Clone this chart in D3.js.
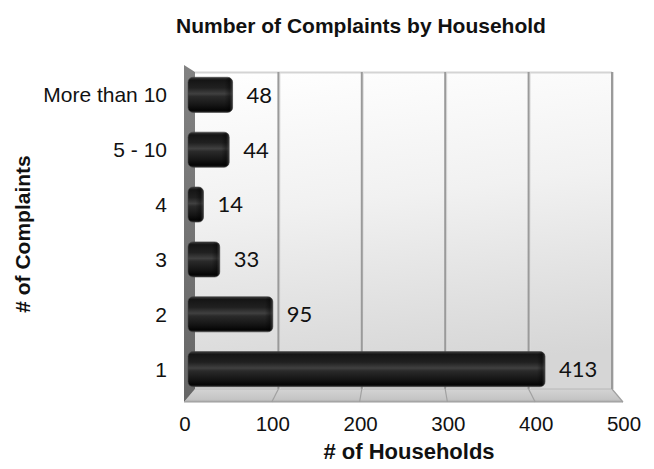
<!DOCTYPE html>
<html>
<head>
<meta charset="utf-8">
<script src="https://cdn.jsdelivr.net/npm/d3@7"></script>
<style>
  html, body { margin: 0; padding: 0; background: #fff; }
  svg { display: block; }
</style>
</head>
<body>
<svg id="chart" width="654" height="469"></svg>
<script>
// Complaint buckets (top to bottom) and household counts
const categories = ["More than 10", "5 - 10", "4", "3", "2", "1"];
const households = [48, 44, 14, 33, 95, 413];
const xTicks = [0, 100, 200, 300, 400, 500];

const svg = d3.select("#chart");
const defs = svg.append("defs");

// Box geometry: back wall and the nearer (front) plane of the 3D plot area
const back = { x0: 195, x1: 612, y0: 72, y1: 389 };
const front = { x0: 184, x1: 623, y0: 65, y1: 402 };

const xBack = d3.scaleLinear().domain([0, 500]).range([back.x0, back.x1]);
const xFront = d3.scaleLinear().domain([0, 500]).range([front.x0, front.x1]);
const xMid = d3.scaleLinear().domain([0, 500]).range([(back.x0 + front.x0) / 2, (back.x1 + front.x1) / 2]);
const y = d3.scaleBand()
  .domain(categories)
  .range([(back.y0 + front.y0) / 2, (back.y1 + front.y1) / 2])
  .paddingInner(0.36)
  .paddingOuter(0.16);

// Gradients
const wallGrad = defs.append("linearGradient").attr("id", "wall")
  .attr("x1", "0").attr("y1", "0").attr("x2", "0.15").attr("y2", "1");
wallGrad.append("stop").attr("offset", "0").attr("stop-color", "#ffffff");
wallGrad.append("stop").attr("offset", "0.45").attr("stop-color", "#f1f1f1");
wallGrad.append("stop").attr("offset", "1").attr("stop-color", "#d6d6d6");

const sideGrad = defs.append("linearGradient").attr("id", "side")
  .attr("x1", "0").attr("y1", "0").attr("x2", "0").attr("y2", "1");
sideGrad.append("stop").attr("offset", "0").attr("stop-color", "#828282");
sideGrad.append("stop").attr("offset", "1").attr("stop-color", "#666666");

const floorGrad = defs.append("linearGradient").attr("id", "floor")
  .attr("x1", "0").attr("y1", "0").attr("x2", "0").attr("y2", "1");
floorGrad.append("stop").attr("offset", "0").attr("stop-color", "#d4d4d4");
floorGrad.append("stop").attr("offset", "0.8").attr("stop-color", "#c4c4c4");
floorGrad.append("stop").attr("offset", "1").attr("stop-color", "#a8a8a8");

const barGrad = defs.append("linearGradient").attr("id", "bar")
  .attr("x1", "0").attr("y1", "0").attr("x2", "0").attr("y2", "1");
[["0", "#3a3a3a"], ["0.08", "#151515"], ["0.3", "#202020"], ["0.47", "#404040"],
 ["0.55", "#2a2a2a"], ["0.8", "#141414"], ["0.94", "#050505"], ["1", "#2a2a2a"]]
  .forEach(([o, c]) => barGrad.append("stop").attr("offset", o).attr("stop-color", c));

const capGrad = defs.append("linearGradient").attr("id", "cap")
  .attr("x1", "0").attr("y1", "0").attr("x2", "1").attr("y2", "0");
capGrad.append("stop").attr("offset", "0").attr("stop-color", "#000").attr("stop-opacity", 0);
capGrad.append("stop").attr("offset", "0.6").attr("stop-color", "#000").attr("stop-opacity", 0.35);
capGrad.append("stop").attr("offset", "1").attr("stop-color", "#555").attr("stop-opacity", 0.6);

// Back wall
svg.append("rect")
  .attr("x", back.x0).attr("y", back.y0)
  .attr("width", back.x1 - back.x0).attr("height", back.y1 - back.y0)
  .attr("fill", "url(#wall)");
svg.append("line")
  .attr("x1", back.x0).attr("x2", back.x1)
  .attr("y1", back.y0 + 0.5).attr("y2", back.y0 + 0.5)
  .attr("stroke", "#d4d4d4").attr("stroke-width", 2);

// Floor
svg.append("path")
  .attr("d", `M${back.x0},${back.y1} L${back.x1},${back.y1} L${front.x1},${front.y1} L${front.x0},${front.y1} Z`)
  .attr("fill", "url(#floor)");
svg.append("line")
  .attr("x1", back.x0).attr("x2", back.x1)
  .attr("y1", back.y1).attr("y2", back.y1)
  .attr("stroke", "#b8b8b8").attr("stroke-width", 1);

// Gridlines on the wall and across the floor
const gridVals = xTicks.filter(v => v > 0);
svg.append("g").selectAll("line").data(gridVals).join("line")
  .attr("x1", d => xBack(d) + 1.5).attr("x2", d => xBack(d) + 1.5)
  .attr("y1", back.y0).attr("y2", back.y1)
  .attr("stroke", "#dcdcdc").attr("stroke-width", 1);
svg.append("g").selectAll("line").data(gridVals).join("line")
  .attr("x1", d => xBack(d)).attr("x2", d => xBack(d))
  .attr("y1", back.y0).attr("y2", back.y1)
  .attr("stroke", "#9a9a9a").attr("stroke-width", 2);
svg.append("g").selectAll("line").data(gridVals).join("line")
  .attr("x1", d => xBack(d)).attr("x2", d => xFront(d))
  .attr("y1", back.y1).attr("y2", front.y1)
  .attr("stroke", "#a0a0a0").attr("stroke-width", 1.2);

// Left side wall
svg.append("path")
  .attr("d", `M${front.x0},${front.y0} L${back.x0},${back.y0} L${back.x0},${back.y1} L${front.x0},${front.y1} Z`)
  .attr("fill", "url(#side)");
svg.append("line")
  .attr("x1", front.x0).attr("y1", front.y1).attr("x2", front.x1).attr("y2", front.y1)
  .attr("stroke", "#9c9c9c").attr("stroke-width", 1);

// Bars (cylinders)
const rows = categories.map((c, i) => ({ cat: c, value: households[i] }));
const barX0 = 188;
const bars = svg.append("g");
bars.selectAll("rect.bar").data(rows).join("rect")
  .attr("class", "bar")
  .attr("x", barX0)
  .attr("y", d => y(d.cat))
  .attr("width", d => xMid(d.value) + 2 - barX0)
  .attr("height", y.bandwidth())
  .attr("rx", 5).attr("ry", 5)
  .attr("fill", "url(#bar)")
  .attr("stroke", "#444").attr("stroke-width", 0.6);
bars.selectAll("rect.cap").data(rows).join("rect")
  .attr("class", "cap")
  .attr("x", d => Math.max(barX0, xMid(d.value) - 6))
  .attr("y", d => y(d.cat) + 0.5)
  .attr("width", d => xMid(d.value) + 2 - Math.max(barX0, xMid(d.value) - 6))
  .attr("height", y.bandwidth() - 1)
  .attr("rx", 5).attr("ry", 5)
  .attr("fill", "url(#cap)");

// Value labels
svg.append("g").selectAll("text").data(rows).join("text")
  .attr("x", d => xMid(d.value) + 16)
  .attr("y", d => y(d.cat) + y.bandwidth() / 2)
  .attr("dy", "0.36em")
  .attr("font-family", "Lato, 'Open Sans', sans-serif")
  .attr("font-size", 22)
  .attr("fill", "#111")
  .text(d => d.value);

// Category labels
svg.append("g").selectAll("text").data(categories).join("text")
  .attr("x", 167)
  .attr("y", d => y(d) + y.bandwidth() / 2)
  .attr("dy", "0.36em")
  .attr("text-anchor", "end")
  .attr("font-family", "'Liberation Sans', Arial, sans-serif")
  .attr("font-size", 21)
  .attr("fill", "#111")
  .text(d => d);

// X tick labels along the front edge
svg.append("g").selectAll("text").data(xTicks).join("text")
  .attr("x", d => xFront(d) + 1)
  .attr("y", 431)
  .attr("text-anchor", "middle")
  .attr("font-family", "'Liberation Sans', Arial, sans-serif")
  .attr("font-size", 20.5)
  .attr("fill", "#111")
  .text(d => d);

// Titles
svg.append("text")
  .attr("x", 361).attr("y", 33)
  .attr("text-anchor", "middle")
  .attr("font-family", "'Liberation Sans', Arial, sans-serif")
  .attr("font-size", 21).attr("font-weight", "bold")
  .attr("fill", "#111")
  .text("Number of Complaints by Household");

svg.append("text")
  .attr("x", 409).attr("y", 459)
  .attr("text-anchor", "middle")
  .attr("font-family", "'Liberation Sans', Arial, sans-serif")
  .attr("font-size", 22).attr("font-weight", "bold")
  .attr("fill", "#111")
  .text("# of Households");

svg.append("text")
  .attr("transform", "translate(30,234) rotate(-90)")
  .attr("text-anchor", "middle")
  .attr("font-family", "'Liberation Sans', Arial, sans-serif")
  .attr("font-size", 21).attr("font-weight", "bold")
  .attr("fill", "#111")
  .text("# of Complaints");
</script>
</body>
</html>
